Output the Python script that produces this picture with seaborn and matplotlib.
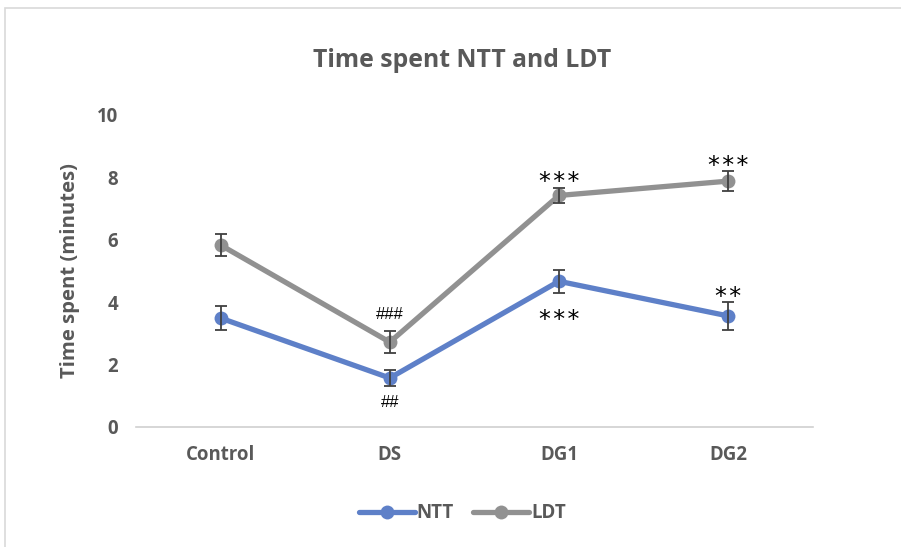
import matplotlib
matplotlib.use('Agg')
import matplotlib.pyplot as plt
import matplotlib.patches as patches
import seaborn as sns
import pandas as pd
import numpy as np


# Data
groups = ['Control', 'DS', 'DG1', 'DG2']
ntt_mean = [3.49, 1.57, 4.67, 3.56]
ntt_err = [0.38, 0.26, 0.36, 0.45]
ldt_mean = [5.83, 2.72, 7.42, 7.88]
ldt_err = [0.35, 0.35, 0.25, 0.33]
ntt_marks = ['', '##', '***', '**']
ldt_marks = ['', '###', '***', '***']
ntt_above = [False, False, False, True]

df = pd.DataFrame({
    'group': groups * 2,
    'pos': list(range(len(groups))) * 2,
    'value': ntt_mean + ldt_mean,
    'err': ntt_err + ldt_err,
    'test': ['NTT'] * 4 + ['LDT'] * 4,
})

sns.set_theme(style='white')
plt.rcParams['font.family'] = ['Open Sans', 'DejaVu Sans']

palette = {'NTT': '#5E80C8', 'LDT': '#919191'}
text_col = '#595959'

fig = plt.figure(figsize=(9.01, 5.47), dpi=100)
ax = fig.add_axes([0.151, 0.2194, 0.751, 0.5704])

# light frame round the chart area
fig.patches.append(patches.Rectangle((5 / 901, -0.05), 1.1, 1 - 8 / 547 + 0.05,
                                     transform=fig.transFigure, fill=False,
                                     edgecolor='#d9d9d9', linewidth=1.2))

sns.lineplot(data=df, x='pos', y='value', hue='test', palette=palette,
             marker='o', markersize=10, markeredgewidth=0, linewidth=3.8,
             ax=ax, legend=True, zorder=3)

for name in ['NTT', 'LDT']:
    sub = df[df['test'] == name]
    ax.errorbar(sub['pos'], sub['value'], yerr=sub['err'], fmt='none',
                ecolor='#404040', elinewidth=1.3, capsize=4, capthick=1.3, zorder=4)


def put_mark(text, x, y, above):
    # y is the end of the error bar; offsets in points
    if '*' in text:
        s = '\u200a'.join(text)
        dy = -1.3 if above else -25
        ax.annotate(s, (x, y), xytext=(0, dy), textcoords='offset points',
                    ha='center', va='baseline', fontsize=17,
                    family='DejaVu Sans', color='black')
    else:
        dy = 12 if above else -11.5
        ax.annotate(text, (x, y), xytext=(0, dy), textcoords='offset points',
                    ha='center', va='center', fontsize=12,
                    family='Liberation Sans', color='black')


for i in range(len(groups)):
    if ldt_marks[i]:
        put_mark(ldt_marks[i], i, ldt_mean[i] + ldt_err[i], True)
    if ntt_marks[i]:
        if ntt_above[i]:
            put_mark(ntt_marks[i], i, ntt_mean[i] + ntt_err[i], True)
        else:
            put_mark(ntt_marks[i], i, ntt_mean[i] - ntt_err[i], False)

ax.set_xlim(-0.5, 3.5)
ax.set_ylim(0, 10)
ax.set_xticks(range(len(groups)))
ax.set_xticklabels(groups)
ax.set_yticks([0, 2, 4, 6, 8, 10])
ax.tick_params(axis='both', length=0, labelsize=13.4, labelcolor=text_col)
ax.tick_params(axis='y', pad=13)
ax.tick_params(axis='x', pad=13)
for lab in ax.get_xticklabels() + ax.get_yticklabels():
    lab.set_fontweight('bold')

for side in ['top', 'right', 'left']:
    ax.spines[side].set_visible(False)
ax.spines['bottom'].set_color('#d0d0d0')
ax.spines['bottom'].set_linewidth(1.2)

ax.set_xlabel('')
ax.set_ylabel('Time spent (minutes)', fontsize=14.6, fontweight='bold', color=text_col, labelpad=12)
fig.text(0.513, 0.89, 'Time spent NTT and LDT', ha='center', va='center',
         fontsize=17.8, fontweight='bold', color=text_col)

handles, labels = ax.get_legend_handles_labels()
ax.legend(handles, labels, loc='center', bbox_to_anchor=(0.513, 0.062),
          bbox_transform=fig.transFigure, ncol=2, frameon=False,
          prop={'weight': 'bold', 'size': 13.5}, labelcolor=text_col,
          handlelength=3, handletextpad=0.1, columnspacing=1.0)

fig.savefig('out.png', dpi=100)
